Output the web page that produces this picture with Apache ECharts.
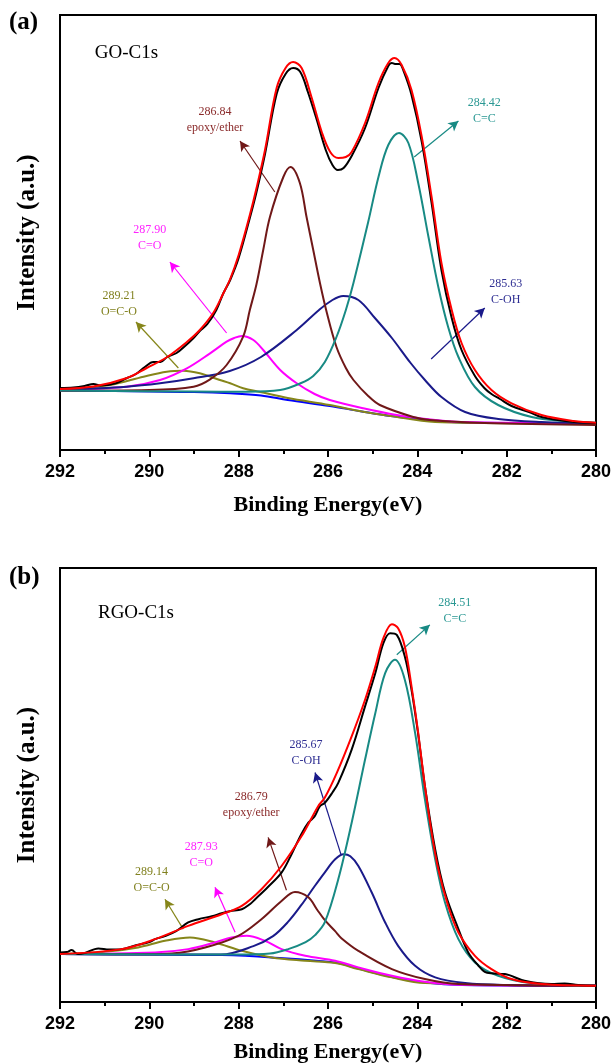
<!DOCTYPE html>
<html>
<head>
<meta charset="utf-8">
<title>C1s XPS fits</title>
<script src="https://cdn.jsdelivr.net/npm/echarts@6/dist/echarts.min.js"></script>
<style>
  html, body { margin: 0; padding: 0; background: #fff; }
  #chart { width: 614px; height: 1064px; }
</style>
</head>
<body>
<div id="chart"></div>
<script>
// ---- panel (a) GO-C1s, [eV, intensity a.u.]
const goRaw = [[292, 62], [291.7, 62.5], [291.45, 64], [291.25, 66], [291.1, 64.5], [290.73, 67], [290.5, 72], [290.3, 76],
  [290.1, 83], [289.91, 88], [289.75, 88], [289.6, 93], [289.39, 97], [289.2, 104], [289.01, 112], [288.87, 119], [288.7, 126],
  [288.5, 140], [288.34, 157], [288.19, 170], [288.0, 192], [287.75, 232], [287.6, 258], [287.41, 296], [287.15, 356],
  [286.95, 376], [286.78, 382], [286.62, 378], [286.45, 358], [286.25, 330], [286.05, 300], [285.9, 285], [285.78, 280],
  [285.65, 282], [285.47, 294], [285.17, 322], [284.87, 362], [284.65, 384], [284.57, 387], [284.5, 386], [284.4, 386],
  [284.3, 378], [284.13, 355], [283.9, 308], [283.68, 247], [283.46, 180], [283.23, 132], [283.01, 100], [282.71, 74],
  [282.5, 62], [282.34, 56], [282.15, 51], [281.89, 44], [281.5, 38], [281.22, 33], [280.6, 28.5], [280, 27]];
const goEnvelope = [[292, 61], [291.25, 63.5], [290.5, 72], [290.06, 82], [289.6, 93], [289.16, 108], [288.87, 120],
  [288.57, 137], [288.34, 157], [288.19, 171], [288.0, 195], [287.75, 235], [287.6, 262], [287.41, 300], [287.15, 362],
  [286.95, 382], [286.78, 388], [286.59, 382], [286.37, 353], [286.14, 318], [285.95, 298], [285.77, 292], [285.6, 293],
  [285.47, 298], [285.17, 327], [284.87, 367], [284.65, 387], [284.51, 392], [284.35, 385], [284.13, 360], [283.9, 313],
  [283.68, 253], [283.46, 187], [283.23, 140], [283.01, 107], [282.71, 80], [282.34, 60], [281.89, 46.7], [281.22, 35],
  [280.5, 29], [280, 27.3]];
const goCC = [[292, 59.5], [289, 58.5], [287.82, 58.3], [287.07, 60], [286.6, 67], [286.33, 74], [286.07, 88], [285.81, 113],
  [285.6, 140], [285.43, 167], [285.1, 228], [284.87, 273], [284.65, 305], [284.41, 317], [284.2, 307], [283.98, 267],
  [283.75, 213], [283.53, 163], [283.31, 123], [283.08, 93], [282.71, 63], [282.19, 45], [281.44, 33], [280.7, 29], [280, 27.3]];
const goCOH = [[292, 60], [290.51, 63.3], [289.76, 66.7], [289.01, 71.7], [288.2, 79], [287.5, 93], [286.7, 120], [286.2, 140],
  [285.9, 150], [285.66, 154], [285.32, 150], [284.95, 132], [284.57, 112], [284.15, 87], [283.83, 70], [283.46, 53],
  [282.93, 38], [282.19, 31], [281.22, 28], [280, 26.7]];
const goEpoxy = [[292, 59.3], [290, 60], [289.01, 63.3], [288.64, 70.7], [288.27, 85], [287.9, 113.3], [287.75, 140],
  [287.6, 166], [287.45, 200], [287.3, 233], [287.0, 273], [286.84, 283], [286.63, 267], [286.48, 233], [286.33, 200],
  [286.18, 167], [286.03, 138], [285.81, 103], [285.6, 82], [285.43, 70], [285.1, 54], [284.84, 45], [284.09, 33],
  [283.72, 30], [282.5, 27], [280, 25]];
const goCO = [[292, 60], [290.51, 63.3], [289.76, 70], [289.16, 81.7], [288.64, 96.7], [288.27, 108.3], [288.1, 112],
  [287.93, 114], [287.67, 110], [287.45, 100], [287.07, 80], [286.7, 66.7], [286.3, 56], [285.96, 50], [285.21, 41.7],
  [284.46, 35], [283.7, 30.5], [283, 28], [281.5, 27], [280, 26.7]];
const goOCO = [[292, 60], [290.88, 65], [290.13, 73.3], [289.61, 78.3], [289.24, 79.3], [288.87, 76.7], [288.42, 70],
  [288.19, 66.7], [287.9, 61.7], [287.52, 58], [286.9, 52], [285.96, 45], [285.3, 39], [284.6, 34], [283.6, 28], [282.5, 27], [280, 26]];
const goBackground = [[292, 59.5], [290, 58.5], [289, 58], [288.19, 56.7], [287.5, 54.5], [286.9, 50], [285.96, 44],
  [285.3, 39], [284.6, 34], [283.72, 30], [283, 27.5], [281.5, 27], [280, 26.7]];

// ---- panel (b) RGO-C1s
const rgoRaw = [[292, 49.7], [291.85, 50], [291.74, 52], [291.6, 48], [291.45, 49], [291.14, 53.7], [290.9, 52.5], [290.62, 53],
  [290.3, 57], [290.0, 60], [289.87, 63], [289.65, 66], [289.4, 71], [289.13, 79.7], [288.9, 83], [288.6, 86], [288.38, 89],
  [288.2, 91], [287.93, 93], [287.75, 98], [287.63, 103], [287.35, 115], [287.04, 129.7], [286.85, 145], [286.6, 168],
  [286.44, 179.7], [286.3, 186], [286.18, 196.3], [286.07, 199.7], [285.9, 210], [285.77, 219.7], [285.47, 253],
  [285.17, 296.3], [284.94, 329.7], [284.76, 359.7], [284.61, 369.7], [284.46, 368], [284.28, 346.3], [284.13, 313],
  [283.98, 268], [283.83, 216.3], [283.6, 153], [283.38, 109.7], [283.08, 73], [282.86, 49.7], [282.63, 36.3],
  [282.49, 30.3], [282.34, 28.7], [282.04, 28], [281.6, 21.3], [281.0, 18], [280.7, 18.5], [280.4, 17], [280, 16.3]];
const rgoEnvelope = [[292, 48], [290.62, 53], [289.87, 63], [289.13, 76.3], [288.38, 88], [287.93, 96.3], [287.49, 113],
  [287.04, 136.3], [286.59, 166.3], [286.22, 196.3], [286.07, 205], [285.8, 230], [285.47, 266.3], [285.17, 303],
  [284.94, 336.3], [284.76, 364.7], [284.57, 378.7], [284.43, 374.7], [284.28, 356.3], [284.13, 316.3], [283.98, 269.7],
  [283.83, 216.3], [283.68, 169.7], [283.53, 133], [283.31, 96.3], [283.08, 69.7], [282.71, 46.3], [282.34, 33],
  [281.89, 23], [281.22, 18], [280, 16.3]];
const rgoCC = [[292, 48], [288, 47.5], [287.3, 48.5], [286.89, 53], [286.5, 60], [286.29, 67], [286.07, 80], [285.77, 123],
  [285.47, 179.7], [285.17, 243], [284.94, 289.7], [284.72, 329.7], [284.5, 343], [284.28, 323], [284.05, 269.7],
  [283.83, 203], [283.6, 143], [283.38, 99.7], [283.08, 63], [282.71, 39.7], [282.19, 26.3], [281.44, 19], [280, 16.3]];
const rgoCOH = [[292, 48], [288.4, 47.5], [287.67, 56], [287.23, 66], [286.9, 80], [286.6, 97], [286.3, 116], [286.07, 130],
  [285.84, 143], [285.65, 148], [285.5, 146], [285.32, 136.3], [285.02, 109.7], [284.72, 79.7], [284.43, 56.3],
  [284.05, 36.3], [283.6, 24.7], [282.93, 19], [282, 17], [280, 16.3]];
const rgoEpoxy = [[292, 48], [290, 47.8], [289.5, 48.5], [288.75, 54.7], [288.01, 66.3], [287.49, 83], [287.04, 101.3],
  [286.74, 110.3], [286.44, 105], [286.25, 93], [286.07, 82], [285.84, 71], [285.7, 64], [285.32, 51.3], [284.57, 33],
  [283.83, 23], [283.08, 18], [280, 16.3]];
const rgoCO = [[292, 48], [289.87, 49.7], [289.13, 53], [288.53, 59.7], [288.16, 64.7], [287.82, 66.3], [287.41, 61.3],
  [287.04, 53], [286.51, 46.3], [285.84, 41.3], [285.32, 34.7], [284.57, 26.3], [283.83, 20.3], [283.08, 17.3], [280, 16.3]];
const rgoOCO = [[292, 48], [290.99, 50.3], [290.25, 54.7], [289.65, 61.3], [289.09, 64.7], [288.53, 59.7], [287.93, 51.3],
  [287.26, 44.7], [286.51, 41.3], [285.84, 39], [285.32, 33], [284.57, 24.7], [283.83, 19], [280, 16.3]];
const rgoBackground = [[292, 48], [290, 47.5], [288.38, 47], [287.26, 44.7], [285.84, 39.5], [285.32, 33.5], [284.57, 25],
  [283.83, 19.5], [283, 17], [280, 16.3]];

const serif = '"Times New Roman", "Liberation Serif", serif';
const sans = 'Arial, "Liberation Sans", sans-serif';

const colors = {
  raw: '#000000', env: '#ff0000', cc: '#188a84', coh: '#1a1a8a', epoxy: '#701818',
  co: '#ff00ff', oco: '#86861a', bg: '#0000ff'
};
const textColors = {
  cc: '#2a9893', coh: '#2e2e92', epoxy: '#8a2a2a', co: '#ff22ff', oco: '#80801e'
};

function xAxisFor (idx, gap) {
  return {
    gridIndex: idx, type: 'value', min: 280, max: 292, interval: 2, inverse: true,
    name: 'Binding Energy(eV)', nameLocation: 'middle', nameGap: gap,
    nameTextStyle: { fontFamily: serif, fontWeight: 'bold', fontSize: 22, color: '#000' },
    axisLine: { lineStyle: { color: '#000', width: 2 } },
    axisTick: { length: 7, lineStyle: { color: '#000', width: 2 } },
    minorTick: { show: true, splitNumber: 2, length: 4, lineStyle: { color: '#000', width: 2 } },
    splitLine: { show: false },
    axisLabel: { margin: 13, fontFamily: sans, fontWeight: 'bold', fontSize: 18, color: '#000' }
  };
}

function yAxisFor (idx) {
  return {
    gridIndex: idx, type: 'value', min: 0, max: 435,
    name: 'Intensity (a.u.)', nameLocation: 'middle', nameGap: 20, nameRotate: 90,
    nameTextStyle: { fontFamily: serif, fontWeight: 'bold', fontSize: 25, color: '#000' },
    axisLine: { show: true, lineStyle: { color: '#000', width: 2 } },
    axisTick: { show: false }, axisLabel: { show: false }, splitLine: { show: false }
  };
}

function line (idx, name, data, color, width, z) {
  return {
    name: name, type: 'line', xAxisIndex: idx, yAxisIndex: idx, data: data,
    smooth: 0.35, showSymbol: false, symbol: 'none', z: z,
    lineStyle: { color: color, width: width }, silent: true
  };
}

function arrow (from, to, color) {
  return [{ coord: from, lineStyle: { color: color, width: 1.2, type: 'solid' } }, { coord: to }];
}

function note (coord, text, color, size, align) {
  return {
    coord: coord, symbolSize: 0,
    label: {
      show: true, formatter: text, color: color, fontFamily: serif, fontSize: size || 12,
      lineHeight: size ? size + 4 : 16, align: align || 'center', verticalAlign: 'middle', position: 'inside'
    }
  };
}

function panel (idx, d, notes, arrows) {
  const bg = line(idx, 'background', d.bg, colors.bg, 2, 2);
  bg.markLine = {
    silent: true, symbol: ['none', 'arrow'], symbolSize: [8, 10], animation: false,
    label: { show: false }, data: arrows
  };
  const env = line(idx, 'fit', d.env, colors.env, 2, 9);
  env.markPoint = { silent: true, animation: false, symbol: 'circle', symbolSize: 0, data: notes };
  return [
    bg,
    line(idx, 'O=C-O', d.oco, colors.oco, 2, 3),
    line(idx, 'C=O', d.co, colors.co, 2, 4),
    line(idx, 'C-OH', d.coh, colors.coh, 2, 5),
    line(idx, 'epoxy/ether', d.epoxy, colors.epoxy, 2, 6),
    line(idx, 'C=C', d.cc, colors.cc, 2, 7),
    line(idx, 'raw', d.raw, colors.raw, 2, 8),
    env
  ];
}

const seriesA = panel(0,
  { raw: goRaw, env: goEnvelope, cc: goCC, coh: goCOH, epoxy: goEpoxy, co: goCO, oco: goOCO, bg: goBackground },
  [
    note([291.22, 397], 'GO-C1s', '#000', 19, 'left'),
    note([288.53, 330], '286.84\nepoxy/ether', textColors.epoxy),
    note([289.99, 212], '287.90\nC=O', textColors.co),
    note([290.68, 146], '289.21\nO=C-O', textColors.oco),
    note([282.5, 339], '284.42\nC=C', textColors.cc),
    note([282.02, 158], '285.63\nC-OH', textColors.coh)
  ],
  [
    arrow([287.19, 258], [287.97, 309], colors.epoxy),
    arrow([288.27, 117], [289.54, 188], colors.co),
    arrow([289.35, 82], [290.3, 128], colors.oco),
    arrow([284.07, 293], [283.08, 329], colors.cc),
    arrow([283.69, 91], [282.49, 142], colors.coh)
  ]);

const seriesB = panel(1,
  { raw: rgoRaw, env: rgoEnvelope, cc: rgoCC, coh: rgoCOH, epoxy: rgoEpoxy, co: rgoCO, oco: rgoOCO, bg: rgoBackground },
  [
    note([291.15, 390], 'RGO-C1s', '#000', 19, 'left'),
    note([283.16, 392], '284.51\nC=C', textColors.cc),
    note([286.49, 250], '285.67\nC-OH', textColors.coh),
    note([287.72, 198], '286.79\nepoxy/ether', textColors.epoxy),
    note([288.84, 147], '287.93\nC=O', textColors.co),
    note([289.95, 122], '289.14\nO=C-O', textColors.oco)
  ],
  [
    arrow([284.46, 348], [283.72, 378], colors.cc),
    arrow([285.71, 148], [286.29, 230], colors.coh),
    arrow([286.93, 112], [287.34, 165], colors.epoxy),
    arrow([288.08, 70], [288.53, 115], colors.co),
    arrow([289.24, 73], [289.65, 103], colors.oco)
  ]);

const chart = echarts.init(document.getElementById('chart'), null, { renderer: 'canvas' });
chart.setOption({
  animation: false,
  backgroundColor: '#fff',
  grid: [
    { left: 60, top: 15, width: 536, height: 435, show: true, borderColor: '#000', borderWidth: 2 },
    { left: 60, top: 568, width: 536, height: 435, show: true, borderColor: '#000', borderWidth: 2 }
  ],
  xAxis: [xAxisFor(0, 44), xAxisFor(1, 39)],
  yAxis: [yAxisFor(0), yAxisFor(1)],
  graphic: [
    { type: 'text', left: 9, top: 10, style: { text: '(a)', font: 'bold 25px ' + serif, fill: '#000' } },
    { type: 'text', left: 9, top: 565, style: { text: '(b)', font: 'bold 25px ' + serif, fill: '#000' } }
  ],
  series: seriesA.concat(seriesB)
});
</script>
</body>
</html>
